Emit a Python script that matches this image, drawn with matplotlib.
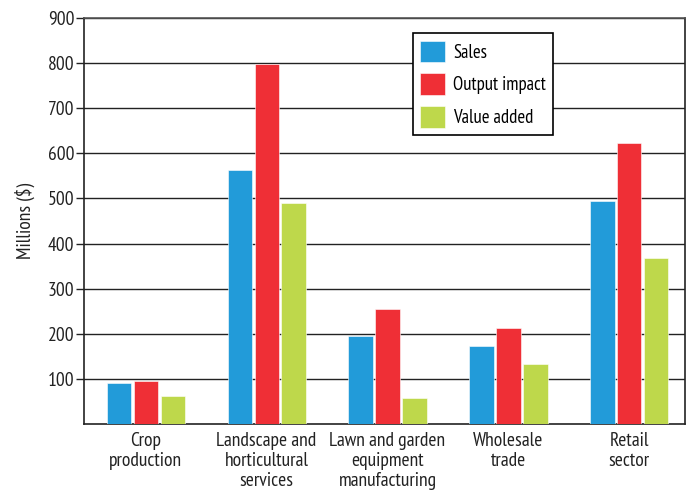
import numpy as np
import matplotlib.pyplot as plt

plt.rcParams['font.family'] = ['PT Sans Narrow', 'DejaVu Sans']

# --- data ---
categories = ["Crop\nproduction", "Landscape and\nhorticultural\nservices",
              "Lawn and garden\nequipment\nmanufacturing", "Wholesale\ntrade",
              "Retail\nsector"]
sales = [90, 563, 195, 172, 495]
output_impact = [96, 798, 254, 212, 624]
value_added = [63, 491, 57, 134, 367]

series_names = ["Sales", "Output impact", "Value added"]
colors = ["#229bd9", "#ef2f36", "#bed84b"]

fig = plt.figure(figsize=(6.86, 4.94), dpi=100)
ax = fig.add_axes([84 / 686, 1 - 424 / 494, 601 / 686, 406 / 494])

x = np.arange(len(categories))
width = 0.2
step = 0.223
for i, (vals, name, c) in enumerate(zip([sales, output_impact, value_added], series_names, colors)):
    ax.bar(x + (i - 1) * step, vals, width, color=c, label=name,
           edgecolor='white', linewidth=0.4, zorder=3)

ax.set_xlim(-0.51, 4.46)
ax.set_ylim(0, 900)
ax.set_yticks(range(100, 1000, 100))
ax.yaxis.grid(True, color='#222222', linewidth=1.0, zorder=0)
ax.set_axisbelow(True)
ax.tick_params(axis='y', direction='out', length=6, width=1, labelsize=14, colors='#222222', pad=1)
ax.tick_params(axis='x', length=0, labelsize=14, pad=6, colors='#222222')
ax.set_xticks(x)
ax.set_xticklabels(categories, linespacing=1.12)
for s in ax.spines.values():
    s.set_color('#222222')
    s.set_linewidth(1.2)
ax.spines['top'].set_color('#555555')

ax.set_ylabel("Millions ($)", fontsize=14, labelpad=9, color='#222222')

leg = ax.legend(loc='upper left', bbox_to_anchor=(0.547, 0.963), fontsize=13.5,
                frameon=True, fancybox=False, edgecolor='black', framealpha=1,
                handlelength=1.3, handleheight=1.4, labelspacing=0.6,
                borderpad=0.4, handletextpad=0.45, borderaxespad=0)
leg.get_frame().set_linewidth(1.2)

fig.savefig("out.png", dpi=100)
